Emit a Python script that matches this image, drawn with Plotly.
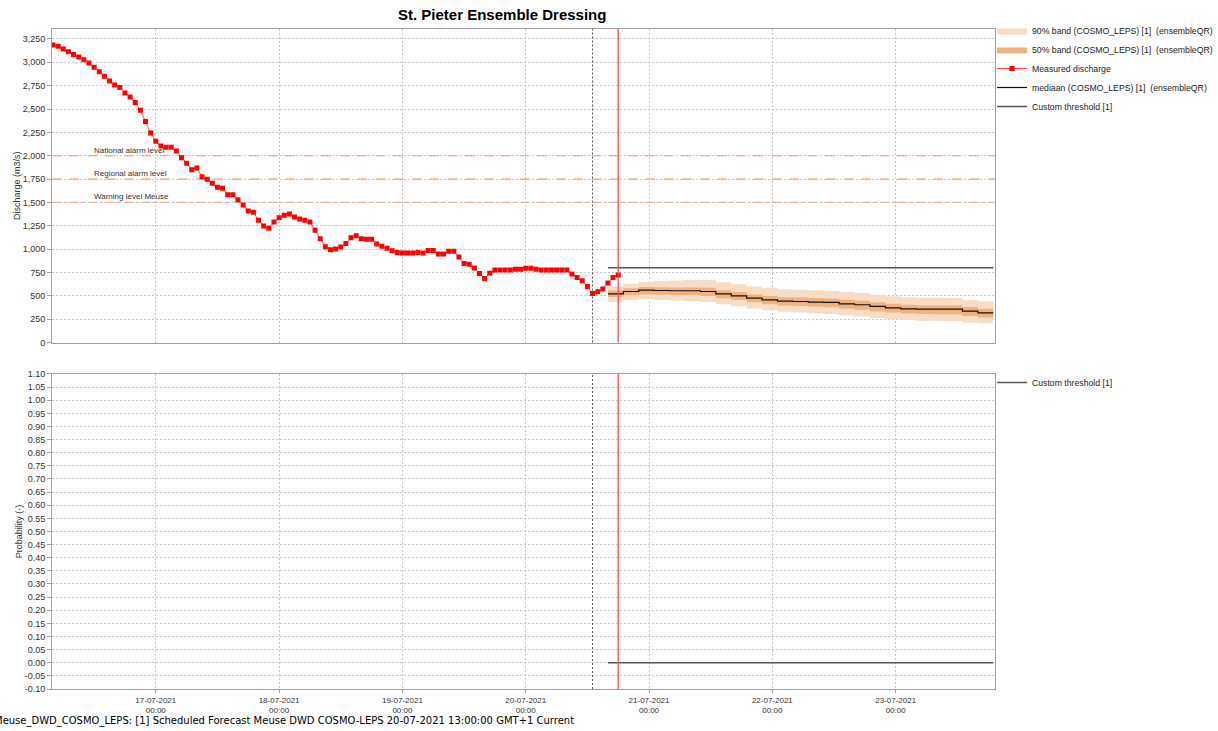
import pandas as pd
import plotly.graph_objects as go
from plotly.subplots import make_subplots

# ---------------- data ----------------
measured_start = "2021-07-16 04:00"
measured_discharge = [
    3185, 3171, 3142, 3114, 3085, 3057, 3028, 2993, 2947, 2900, 2851, 2801, 2758, 2730,
    2673, 2630, 2570, 2488, 2367, 2243, 2154, 2104, 2090, 2090, 2051, 1979, 1919, 1851,
    1869, 1775, 1747,
    1706, 1663, 1652, 1582, 1582, 1528, 1472, 1408, 1394, 1309, 1248, 1223, 1291, 1337,
    1362, 1376, 1344, 1323, 1309, 1291, 1202, 1110, 1025, 993, 1000, 1023,
    1059, 1122, 1143, 1112, 1105, 1105, 1056, 1031, 1010, 983, 965, 958, 958, 958, 965,
    958, 986, 986, 948, 948, 976, 976, 916, 846, 839,
    797, 738, 684, 741, 777, 777, 777, 777, 784, 784, 794, 794, 784, 777, 777, 777, 777,
    777, 777, 734, 695, 660, 599, 525, 543, 574, 638, 695, 723,
]
measured_times = pd.date_range(measured_start, periods=len(measured_discharge), freq="h")

forecast_start = "2021-07-20 16:00"
median_q50 = [521, 546, 561, 557, 554, 554, 546, 521, 500, 475, 457, 443, 439, 432, 429,
              414, 404, 386, 371, 361, 357, 357, 357, 336, 318, 318]
band_q05 = [430, 455, 465, 455, 450, 445, 435, 410, 390, 365, 345, 330, 322, 312, 305,
            290, 278, 262, 250, 240, 232, 230, 228, 215, 205, 200]
band_q25 = [486, 505, 515, 510, 508, 505, 498, 475, 455, 430, 410, 395, 390, 382, 378,
            362, 350, 333, 320, 310, 305, 303, 302, 283, 268, 265]
band_q75 = [557, 580, 595, 592, 590, 590, 585, 560, 540, 515, 498, 485, 482, 476, 472,
            458, 448, 430, 415, 405, 400, 400, 400, 380, 362, 362]
band_q95 = [600, 630, 650, 660, 665, 670, 668, 645, 625, 600, 585, 570, 565, 560, 555,
            540, 530, 512, 495, 485, 480, 478, 476, 455, 440, 440]
forecast_times = pd.date_range(forecast_start, periods=len(median_q50), freq="3h")
custom_threshold = [800] * len(forecast_times)
threshold_probability = [0.0] * len(forecast_times)

alarm_levels = [2000, 1750, 1500]
alarm_labels = ["National alarm level", "Regional alarm level", "Warning level Meuse"]

forecast_time = "2021-07-20 13:00"
current_time = "2021-07-20 18:00"
x_range = ["2021-07-16 03:48", "2021-07-23 19:20"]

prob_tickvals = [round(-0.10 + 0.05 * i, 2) for i in range(25)]
prob_ticktext = [f"{v:.2f}" for v in prob_tickvals]

title_text = "St. Pieter Ensemble Dressing"
footer_text = ("Meuse_DWD_COSMO_LEPS: [1] Scheduled Forecast Meuse DWD COSMO-LEPS "
               "20-07-2021 13:00:00 GMT+1 Current")

# ---------------- styles ----------------
C90 = "#F9DCC5"
C50 = "#F0B27F"
GRID = "#C8C8C8"
AXIS = "#A0A0A0"
FONT = "Liberation Sans"

fig = make_subplots(rows=2, cols=1, shared_xaxes=True)

# 90% band
fig.add_trace(go.Scatter(x=forecast_times, y=band_q05, mode="lines", line=dict(width=0, shape="hv"),
                         showlegend=False, hoverinfo="skip"), row=1, col=1)
fig.add_trace(go.Scatter(x=forecast_times, y=band_q95, mode="lines", line=dict(width=0, shape="hv"),
                         fill="tonexty", fillcolor=C90,
                         name="90% band (COSMO_LEPS) [1]  (ensembleQR)", legend="legend"), row=1, col=1)
# 50% band
fig.add_trace(go.Scatter(x=forecast_times, y=band_q25, mode="lines", line=dict(width=0, shape="hv"),
                         showlegend=False, hoverinfo="skip"), row=1, col=1)
fig.add_trace(go.Scatter(x=forecast_times, y=band_q75, mode="lines", line=dict(width=0, shape="hv"),
                         fill="tonexty", fillcolor=C50,
                         name="50% band (COSMO_LEPS) [1]  (ensembleQR)", legend="legend"), row=1, col=1)
# measured
fig.add_trace(go.Scatter(x=measured_times, y=measured_discharge, mode="lines+markers",
                         line=dict(color="#FF5050", width=1),
                         marker=dict(symbol="square", size=5, color="#FF0000"),
                         name="Measured discharge", legend="legend"), row=1, col=1)
# median
fig.add_trace(go.Scatter(x=forecast_times, y=median_q50, mode="lines",
                         line=dict(color="#111111", width=1.2, shape="hv"),
                         name="mediaan (COSMO_LEPS) [1]  (ensembleQR)", legend="legend"), row=1, col=1)
# custom threshold
fig.add_trace(go.Scatter(x=forecast_times, y=custom_threshold, mode="lines",
                         line=dict(color="#555555", width=1.5),
                         name="Custom threshold [1]", legend="legend"), row=1, col=1)
# probability
fig.add_trace(go.Scatter(x=forecast_times, y=threshold_probability, mode="lines",
                         line=dict(color="#555555", width=1.5),
                         name="Custom threshold [1]", legend="legend2"), row=2, col=1)

# alarm levels
alarm_styles = [("#E98B4B", "dash"), ("#EE9B62", "dash"), ("#F2AE7E", "dashdot")]
for lvl, lab, (col, dash) in zip(alarm_levels, alarm_labels, alarm_styles):
    fig.add_hline(y=lvl, row=1, col=1, line=dict(color=col, width=1.2, dash=dash), layer="below")
    fig.add_annotation(x="2021-07-16 11:40", y=lvl, xref="x", yref="y", text=lab, showarrow=False,
                       xanchor="left", yanchor="bottom", yshift=-1,
                       font=dict(family=FONT, size=8, color="#333333"))

# vertical lines
for yr in ["y domain", "y2 domain"]:
    xr = "x" if yr.startswith("y ") else "x2"
    fig.add_shape(type="line", xref=xr, yref=yr, x0=forecast_time, x1=forecast_time, y0=0, y1=1,
                  line=dict(color="#555555", width=1, dash="2px,2px"))
    fig.add_shape(type="line", xref=xr, yref=yr, x0=current_time, x1=current_time, y0=0, y1=1,
                  line=dict(color="rgba(255,70,70,0.85)", width=1.5))

axis_common = dict(showline=True, linecolor=AXIS, mirror=True, showgrid=True, gridcolor=GRID,
                   griddash="2px,2px", gridwidth=1, zeroline=False, automargin=False)

fig.update_xaxes(range=x_range, dtick=86400000, tick0="2021-07-17", **axis_common)
fig.update_xaxes(showticklabels=False, ticks="", row=1, col=1)
fig.update_xaxes(ticks="outside", ticklen=3, tickcolor=AXIS, tickformat="%d-%m-%Y<br>%H:%M",
                 tickfont=dict(family=FONT, size=8, color="#333333"), row=2, col=1)

fig.update_yaxes(**axis_common)
fig.update_yaxes(range=[0, 3357], dtick=250, tickformat=",d", ticks="outside", ticklen=4,
                 tickcolor=AXIS, tickfont=dict(family=FONT, size=9, color="#333333"),
                 title=dict(text="Discharge (m3/s)", font=dict(family=FONT, size=9, color="#333333"),
                            standoff=0), row=1, col=1)
fig.update_yaxes(range=[-0.10, 1.10], tickvals=prob_tickvals, ticktext=prob_ticktext,
                 ticks="outside", ticklen=4, tickcolor=AXIS,
                 tickfont=dict(family=FONT, size=9, color="#333333"),
                 title=dict(text="Probability (-)", font=dict(family=FONT, size=9, color="#333333"),
                            standoff=0), row=2, col=1)

LEG_X = (992 - 52) / 943
fig.update_layout(
    width=1218, height=731,
    margin=dict(l=52, r=223, t=29, b=42, autoexpand=False),
    plot_bgcolor="white", paper_bgcolor="white",
    font=dict(family=FONT, size=9, color="#333333"),
    yaxis=dict(domain=[0.525, 1.0]),
    yaxis2=dict(domain=[0.0, 0.4773]),
    legend=dict(x=LEG_X, y=(689 - 16) / 660, xanchor="left", yanchor="top",
                bgcolor="rgba(0,0,0,0)",
                font=dict(family=FONT, size=8.7, color="#222222"), traceorder="normal",
                itemwidth=30, tracegroupgap=0),
    legend2=dict(x=LEG_X, y=(689 - 368) / 660, xanchor="left", yanchor="top",
                 bgcolor="rgba(0,0,0,0)",
                 font=dict(family=FONT, size=8.7, color="#222222")),
    showlegend=True,
)

fig.add_annotation(x=(502 - 52) / 943, y=(689 - 15) / 660, xref="paper", yref="paper",
                   text=f"<b>{title_text}</b>", showarrow=False, xanchor="center", yanchor="middle",
                   font=dict(family=FONT, size=15, color="#000000"))
fig.add_annotation(x=(-8 - 52) / 943, y=(689 - 721) / 660, xref="paper", yref="paper",
                   text=footer_text, showarrow=False, xanchor="left", yanchor="middle",
                   font=dict(family="DejaVu Sans", size=10, color="#000000"))

fig.write_html("out.html", config={"displayModeBar": False},
               post_script="document.body.style.margin='0';")
